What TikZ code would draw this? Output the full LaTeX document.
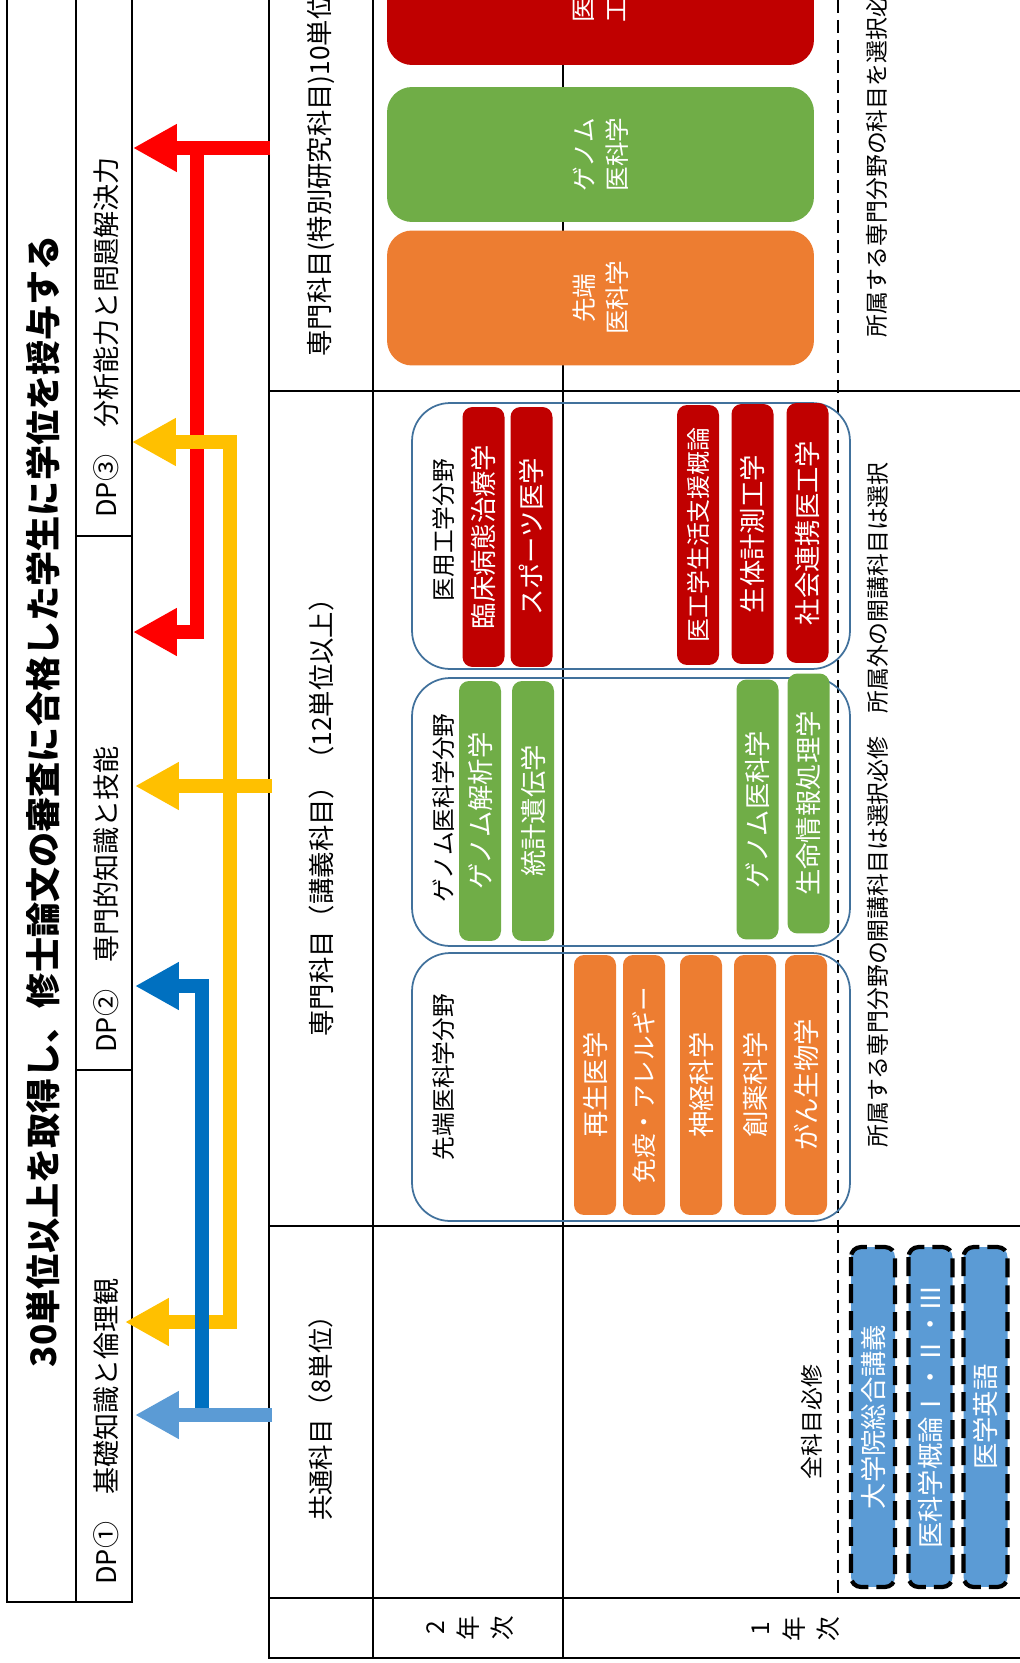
\documentclass[tikz,border=0pt]{standalone}
\usepackage{fontspec}
\setmainfont{Noto Sans CJK JP}
\usetikzlibrary{arrows.meta}

\definecolor{arrRed}{HTML}{FF0000}
\definecolor{arrYellow}{HTML}{FFC000}
\definecolor{arrBlue}{HTML}{0070C0}
\definecolor{arrLight}{HTML}{5B9BD5}
\definecolor{boxRed}{HTML}{C00000}
\definecolor{boxGreen}{HTML}{70AD47}
\definecolor{boxOrange}{HTML}{ED7D31}
\definecolor{boxBlue}{HTML}{5B9BD5}
\definecolor{grpBlue}{HTML}{41719C}

\begin{document}
\begin{tikzpicture}[x=0.02cm, y=-0.02cm, every node/.style={inner sep=0pt},
  tline/.style={line width=1.1pt},
  >={Triangle[length=0.88cm, width=0.9cm]},
  fat/.style={draw=#1, line width=0.28cm, ->},
  dptext/.style={rotate=90, anchor=west, font=\fontsize{15.4}{18}\selectfont},
  hdr/.style={rotate=90, font=\fontsize{15}{18}\selectfont},
  note/.style={rotate=90, font=\fontsize{13}{16}\selectfont},
  year/.style={rotate=90, align=center, font=\fontsize{14}{19.3}\selectfont},
  group/.style={draw=grpBlue, line width=1pt, rounded corners=0.76cm, minimum width=8.76cm},
  grplabel/.style={rotate=90, font=\fontsize{13.5}{16}\selectfont},
  subj/.style={rotate=90, minimum width=5.2cm, minimum height=0.84cm, rounded corners=0.2cm, text=white, font=\fontsize{15}{18}\selectfont},
  bigbox/.style={rotate=90, minimum width=2.7cm, minimum height=8.54cm, rounded corners=0.5cm, text=white, align=center, font=\fontsize{14}{18.7}\selectfont},
  reqbox/.style={rotate=90, minimum width=6.8cm, minimum height=0.88cm, rounded corners=0.2cm, fill=boxBlue, draw=black, line width=2.4pt, dash pattern=on 0.38cm off 0.16cm, text=white, font=\fontsize{15}{18}\selectfont}]

\useasboundingbox (0,0) rectangle (1020,1663);
\clip (0,0) rectangle (1020,1663);

% Table lines
\draw[tline] (269,-20) -- (269,1658) -- (1030,1658);
\foreach \x in {373,563} \draw[tline] (\x,-20) -- (\x,1658);
\foreach \y in {391,1226,1598} \draw[tline] (269,\y) -- (1030,\y);
\draw[line width=1.5pt, dash pattern=on 0.26cm off 0.14cm] (838,-20) -- (838,1598);

% Title and DP cells
\draw[tline] (7,-20) rectangle (132,1602);
\draw[tline] (76,-20) -- (76,1602);
\foreach \y in {536,1070} \draw[tline] (76,\y) -- (132,\y);

\node[rotate=90, font=\bfseries\fontsize{20}{24}\selectfont] (title) at (43,801) {30単位以上を取得し、修士論文の審査に合格した学生に学位を授与する};
\node[dptext] (dp3) at (106,518) {DP③　分析能力と問題解決力};
\node[dptext] (dp2) at (106,1053) {DP②　専門的知識と技能};
\node[dptext] (dp1) at (106,1585) {DP①　基礎知識と倫理観};

% Row headers
\node[hdr, anchor=west] (hdrSpecial) at (321,357) {専門科目(特別研究科目)10単位};
\node[hdr] (hdrLecture) at (321,811) {専門科目（講義科目）（12単位以上）};
\node[hdr, font=\fontsize{14.5}{18}\selectfont] (hdrCommon) at (321,1412) {共通科目（8単位）};
\node[year] (year2) at (470,1628) {2\\年\\次};
\node[year] (year1) at (796,1629) {1\\年\\次};

% Special research
\node[bigbox, fill=boxRed] (spEng) at (600.5,-2.5) {医用\\工学};
\node[bigbox, fill=boxGreen] (spGen) at (600.5,154.5) {ゲノム\\医科学};
\node[bigbox, fill=boxOrange] (spAdv) at (600.5,298) {先端\\医科学};
\node[note, anchor=west] (noteSpecial) at (877,338) {所属する専門分野の科目を選択必修};

% Lecture groups
\node[group, minimum height=5.32cm] (grpEng) at (631,536) {};
\node[group, minimum height=5.36cm] (grpGen) at (631,812) {};
\node[group, minimum height=5.36cm] (grpAdv) at (631,1087) {};
\node[grplabel] (lblEng) at (443,530) {医用工学分野};
\node[grplabel] (lblGen) at (443,808) {ゲノム医科学分野};
\node[grplabel] (lblAdv) at (443,1077) {先端医科学分野};

\foreach \n/\x/\y/\t in {Clin/483.5/537/臨床病態治療学, Sport/531.5/537/スポーツ医学, Meas/752.5/534/生体計測工学, Soc/807.5/533/社会連携医工学}
  \node[subj, fill=boxRed] (eng\n) at (\x,\y) {\t};
\node[subj, fill=boxRed, font=\fontsize{13.6}{16}\selectfont] (engLife) at (698,535) {医工学生活支援概論};

\foreach \n/\x/\y/\t in {Ana/480/811/ゲノム解析学, Stat/533/811/統計遺伝学, Med/757.5/809.5/ゲノム医科学, Info/808.5/803.5/生命情報処理学}
  \node[subj, fill=boxGreen] (gen\n) at (\x,\y) {\t};

\foreach \n/\x/\t in {Regen/595/再生医学, Neuro/701/神経科学, Drug/755/創薬科学, Canc/806/がん生物学}
  \node[subj, fill=boxOrange] (adv\n) at (\x,1085) {\t};
\node[subj, fill=boxOrange, font=\fontsize{14}{16}\selectfont] (advImm) at (644,1085) {免疫・アレルギー};

\node[note] (noteLecture) at (878,805) {所属する専門分野の開講科目は選択必修　所属外の開講科目は選択};

% Common subjects
\node[note] (noteCommon) at (812,1422) {全科目必修};
\foreach \n/\x/\t in {Grad/873/大学院総合講義, Intro/930.5/医科学概論Ⅰ・Ⅱ・Ⅲ, Engl/985.5/医学英語}
  \node[reqbox] (com\n) at (\x,1417) {\t};

% Arrow ends
\coordinate (redSrc) at (270,148);
\coordinate (redTip3) at (133,148);
\coordinate (redTop) at (197,148);
\coordinate (redBend) at (197,632);
\coordinate (redTip2) at (133,632);
\coordinate (yelTip3) at (132,442);
\coordinate (yelTop) at (230,442);
\coordinate (yelBot) at (230,1322);
\coordinate (yelTip1) at (125,1322);
\coordinate (yelSrc) at (272,786);
\coordinate (yelTip2) at (135,786);
\coordinate (bluSrc) at (202,1413);
\coordinate (bluBend) at (202,986);
\coordinate (bluTip) at (135,986);
\coordinate (lbSrc) at (272,1415);
\coordinate (lbTip) at (135,1415);

% Arrows to the DPs
\draw[fat=arrRed] (redSrc) -- (redTip3);
\draw[fat=arrRed] (redTop) -- (redBend) -- (redTip2);
\draw[fat=arrYellow, <->] (yelTip3) -- (yelTop) -- (yelBot) -- (yelTip1);
\draw[fat=arrYellow] (yelSrc) -- (yelTip2);
\draw[fat=arrBlue] (bluSrc) -- (bluBend) -- (bluTip);
\draw[fat=arrLight] (lbSrc) -- (lbTip);

\end{tikzpicture}
\end{document}
